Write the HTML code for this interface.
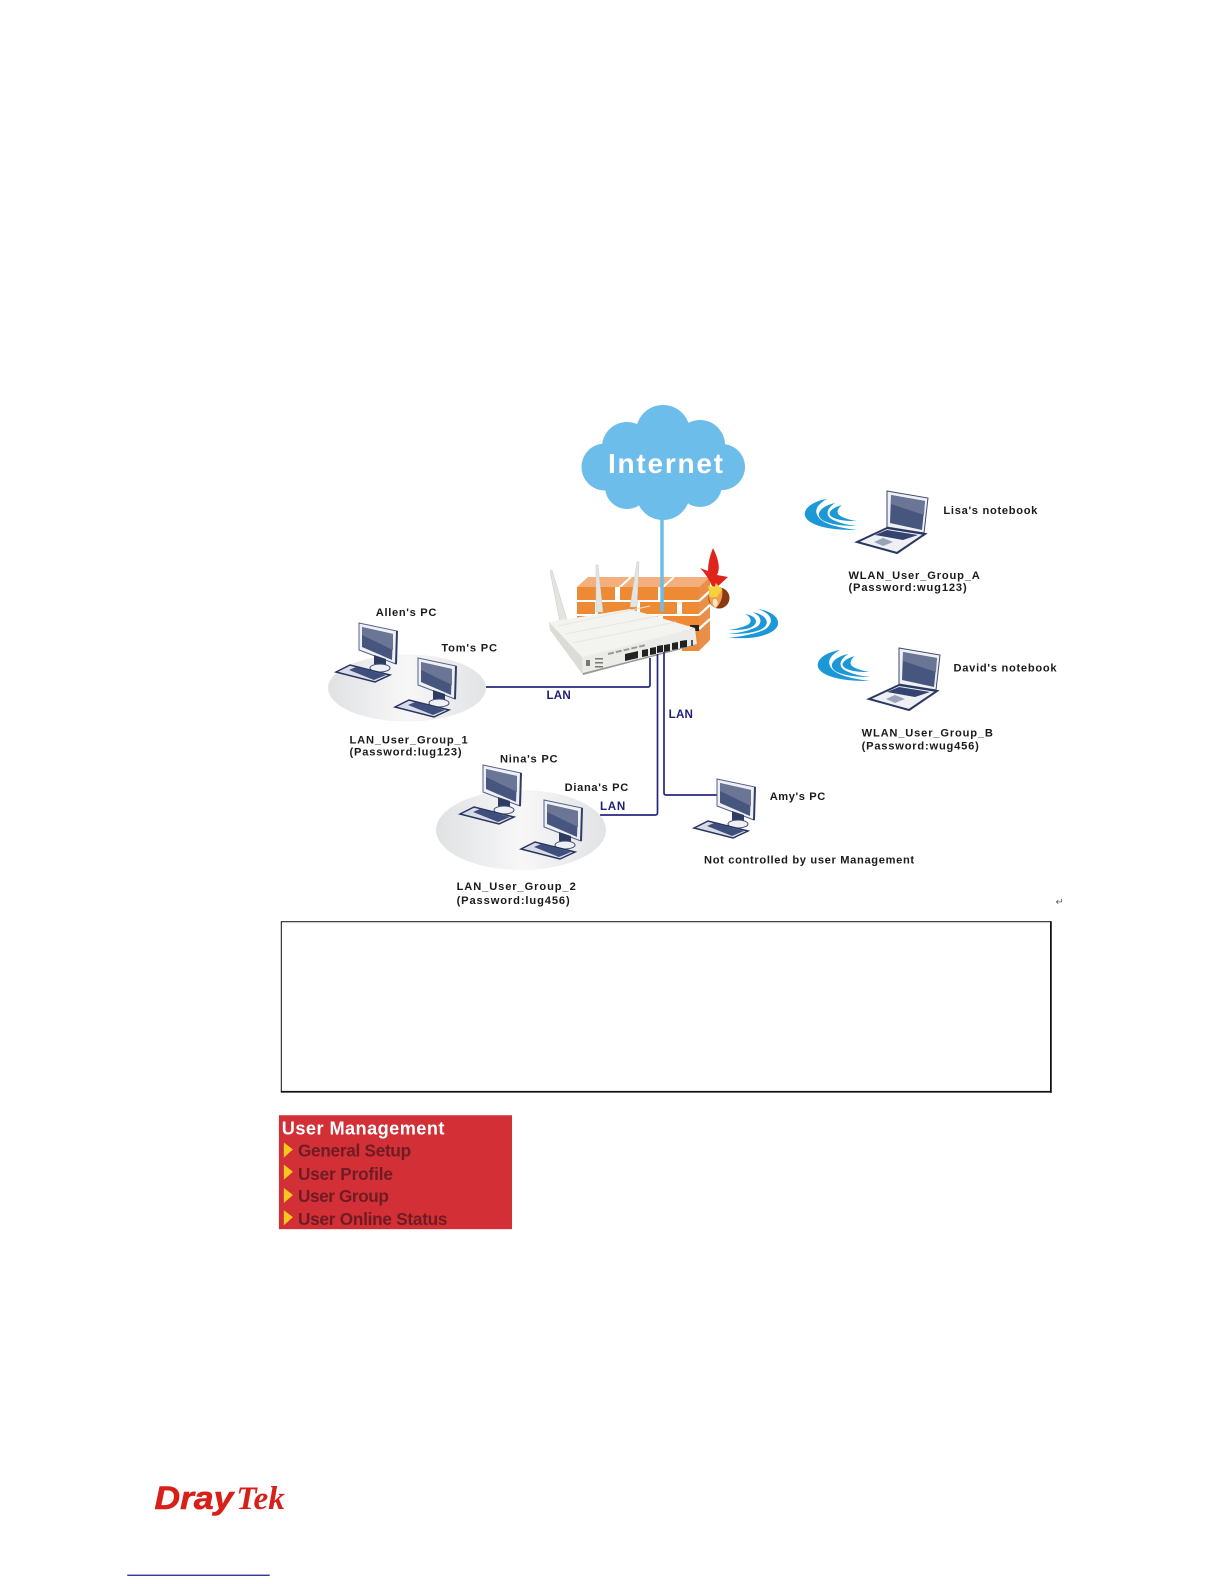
<!DOCTYPE html>
<html><head><meta charset="utf-8"><style>
html,body{margin:0;padding:0;background:#fff}
svg{display:block}
text{font-family:"Liberation Sans",sans-serif}
.l{font-size:11px;font-weight:bold;fill:#1a1a1a}
.n{font-size:11.5px;font-weight:bold;fill:#1f1f78}
.m{font-size:17px;font-weight:bold;fill:#6e1c24}
</style></head><body>
<svg width="1224" height="1584" viewBox="0 0 1224 1584" xmlns="http://www.w3.org/2000/svg">
<defs>
<linearGradient id="g" x1="0" x2="1" y1="0" y2="0"><stop offset="0" stop-color="#e0e1e3"/><stop offset=".5" stop-color="#f7f7f8"/><stop offset="1" stop-color="#e2e3e5"/></linearGradient>
<filter id="b" x="-5%" y="-5%" width="110%" height="110%"><feGaussianBlur stdDeviation="0.35"/></filter>
<g id="pc">
<polygon points="23,1 61,9 60,42 23,28" fill="#eef0f4" stroke="#55618a" stroke-width="1"/>
<line x1="61" y1="9" x2="60" y2="42" stroke="#2f3c66" stroke-width="2"/>
<polygon points="26,5 57,12 56,38 26,25" fill="#46567f"/>
<polygon points="26,5 57,12 57,28 26,13" fill="#6b7596"/>
<polygon points="38,33 50,37 50,45 38,42" fill="#2f3c62"/>
<ellipse cx="44" cy="46" rx="10" ry="4" fill="#eef0f4" stroke="#3c4a72"/>
<polygon points="0,50 14,43 54,53 39,60" fill="#d9dce6" stroke="#26345f" stroke-width="1.5"/>
<polygon points="13,48 20,45 50,53 38,58" fill="#3f4f7c"/>
</g>
<g id="lt">
<polygon points="30,0 71,7 67,42 30,36" fill="#eef0f4" stroke="#3c4a72"/>
<polygon points="34,4 68,10 65,39 33,32" fill="#46567f"/>
<polygon points="34,4 68,10 67,24 34,13" fill="#6b7596"/>
<polygon points="0,51 30,37 68,43 40,62" fill="#eef0f4" stroke="#2a3763" stroke-width="2"/>
<polygon points="18,44 30,39 61,44 46,49" fill="#33426e"/>
<polygon points="17,51 26,47 36,51 26,55" fill="#9aa2b8"/>
</g>
<g id="w" fill="#1c98d6">
<path d="M22,0 C2,3 -8,16 7,24 C18,30 36,31 52,31 C36,29 22,26 15,20 C8,13 11,6 22,0Z"/>
<path d="M30,4 C16,7 8,16 19,22 C28,26 40,27 52,27 C42,26 30,23 25,19 C20,14 23,9 30,4Z"/>
<path d="M37,6 C26,9 20,15 29,19 C36,22 44,22 52,22 C45,21 38,19 34,16 C31,13 33,9 37,6Z"/>
</g>
</defs>

<!-- cloud -->
<g fill="#6dbdea">
<circle cx="663" cy="432" r="27"/><circle cx="627" cy="447" r="25"/><circle cx="700" cy="445" r="25"/>
<circle cx="605" cy="467" r="23.5"/><circle cx="722" cy="467" r="23"/>
<circle cx="627" cy="487" r="22"/><circle cx="663" cy="493" r="27"/><circle cx="700" cy="485" r="22"/>
<ellipse cx="663" cy="465" rx="65" ry="40"/>
</g>
<text x="608" y="473" font-size="28" font-weight="bold" fill="#fff" textLength="115">Internet</text>

<!-- firewall -->
<polygon points="577,587 588,577 710,577 699,587" fill="#f4b07c"/>
<line x1="620" y1="587" x2="631" y2="577" stroke="#fff" stroke-width="2"/>
<line x1="663" y1="587" x2="674" y2="577" stroke="#fff" stroke-width="2"/>
<rect x="577" y="587" width="122" height="64" fill="#fff"/>
<g fill="#ee8a33">
<rect x="577" y="587" width="38" height="13"/><rect x="620" y="587" width="38" height="13"/><rect x="663" y="587" width="36" height="13"/>
<rect x="577" y="602" width="18" height="12"/><rect x="598" y="602" width="39" height="12"/><rect x="640" y="602" width="37" height="12"/><rect x="682" y="602" width="17" height="12"/>
<rect x="577" y="616" width="38" height="12"/><rect x="620" y="616" width="38" height="12"/><rect x="663" y="616" width="36" height="12"/>
<rect x="682" y="630" width="17" height="21"/>
</g>
<polygon points="699,587 710,577 710,640 699,651" fill="#e98f4a"/>
<g stroke="#fff" stroke-width="2.2">
<line x1="699" y1="601" x2="710" y2="591"/><line x1="699" y1="615" x2="710" y2="605"/><line x1="699" y1="629" x2="710" y2="619"/>
</g>
<rect x="690" y="625" width="9" height="6" fill="#222"/>

<!-- flame -->
<circle cx="719" cy="598" r="10.5" fill="#8a3a12"/>
<path d="M709,590 L722,588 Q724,600 716,608 Q708,606 709,590Z" fill="#f2a24a"/>
<path d="M713,604 Q712,598 716,599 Q720,604 715,608Z" fill="#fbe6cc"/>
<path d="M713,548 Q722,566 717,575 L728,577 L716,588 L712,586 Q707,575 700,568 L708,571 Q708,560 713,548Z" fill="#e0241c"/>
<path d="M708,585 L714,588 L716,583 L722,590 L717,597 L710,597Z" fill="#f7d23a"/>

<!-- internet line -->
<line x1="662" y1="518" x2="662" y2="612" stroke="#6dbdea" stroke-width="3.5"/>

<!-- antennas -->
<g fill="#e4e4e0" stroke="#c8c8c4" stroke-width=".5">
<polygon points="550,571 552,570 567,620 560,622"/>
<polygon points="596,565 598,565 603,612 596,612"/>
<polygon points="637,562 639,562 637,607 630,607"/>
</g>

<!-- router -->
<polygon points="549,622 630,609 695,628 582,657" fill="#f3f3f0"/>
<g stroke="#e6e6e2" stroke-width="1">
<line x1="558" y1="626" x2="650" y2="606"/><line x1="565" y1="634" x2="663" y2="615"/><line x1="572" y1="643" x2="676" y2="622"/>
</g>
<polygon points="582,657 695,628 697,645 583,675" fill="#ebebe7"/>
<polygon points="549,622 582,657 583,675 550,630" fill="#dcdcd7"/>
<polygon points="583,673 697,644 697,645 583,675" fill="#9a9a95"/>
<g fill="#222">
<polygon points="625,654 638,651 638,658 625,661"/>
<polygon points="642,650 648,649 648,656 642,657"/>
<polygon points="650,648 656,647 656,654 650,655"/>
<polygon points="657,646 663,645 663,652 657,653"/>
<polygon points="664,645 670,644 670,651 664,652"/>
<polygon points="672,643 678,642 678,649 672,650"/>
<polygon points="680,641 687,640 687,647 680,648"/>
</g>
<rect x="691" y="640" width="2" height="6" fill="#555"/>
<g fill="#777">
<rect x="595" y="658" width="8" height="1.5"/><rect x="595" y="662" width="8" height="1.5"/><rect x="595" y="666" width="8" height="1.5"/>
<rect x="586" y="660" width="4" height="6"/>
</g>
<line x1="608" y1="654" x2="646" y2="645" stroke="#999" stroke-width="2" stroke-dasharray="6 2"/>

<!-- cables -->
<g fill="none" stroke="#27277f" stroke-width="1.7">
<path d="M486,687 H648 Q650,687 650,685 V658"/>
<path d="M600,815 H655 Q657.5,815 657.5,813 V654"/>
<path d="M717,795 H666 Q664,795 664,793 V652"/>
</g>

<!-- wifi -->
<path d="M758,609 C780,612 788,629 761,636 C750,639 738,638 728,638 C745,636 760,633 767,628 C775,620 770,613 758,609Z" fill="#1c98d6"/>
<path d="M752,612 C770,615 773,628 753,632 C745,634 736,634 728,634 C740,633 752,630 758,626 C763,621 760,615 752,612Z" fill="#1c98d6"/>
<path d="M745,614 C759,616 760,626 746,629 C740,630 734,630 728,630 C736,629 744,627 749,624 C752,621 751,617 745,614Z" fill="#1c98d6"/>
<use href="#w" x="805" y="499"/>
<use href="#w" x="818" y="650"/>

<!-- groups -->
<ellipse cx="407" cy="688" rx="79" ry="33.5" fill="url(#g)"/>
<ellipse cx="521" cy="830" rx="85" ry="40" fill="url(#g)"/>
<use href="#pc" x="336" y="622"/>
<use href="#pc" x="395" y="657"/>
<use href="#pc" x="460" y="764"/>
<use href="#pc" x="521" y="799"/>
<use href="#pc" x="694" y="778"/>
<use href="#lt" x="857" y="491"/>
<use href="#lt" x="869" y="648"/>

<g transform="scale(1.0101)">
<!-- labels -->
<text class="l" x="372" y="610" textLength="60">Allen's PC</text>
<text class="l" x="437" y="645" textLength="55">Tom's PC</text>
<text class="l" x="346" y="736" textLength="117">LAN_User_Group_1</text>
<text class="l" x="346" y="748" textLength="111">(Password:lug123)</text>
<text class="l" x="495" y="755" textLength="57">Nina's PC</text>
<text class="l" x="559" y="783" textLength="63">Diana's PC</text>
<text class="l" x="452" y="881" textLength="118">LAN_User_Group_2</text>
<text class="l" x="452" y="895" textLength="112">(Password:lug456)</text>
<text class="l" x="762" y="792" textLength="55">Amy's PC</text>
<text class="l" x="697" y="855" textLength="208">Not controlled by user Management</text>
<text class="l" x="934" y="509" textLength="93">Lisa's notebook</text>
<text class="l" x="840" y="573" textLength="130">WLAN_User_Group_A</text>
<text class="l" x="840" y="585" textLength="117">(Password:wug123)</text>
<text class="l" x="944" y="665" textLength="102">David's notebook</text>
<text class="l" x="853" y="729" textLength="130">WLAN_User_Group_B</text>
<text class="l" x="853" y="742" textLength="116">(Password:wug456)</text>
<text class="n" x="541" y="692" textLength="24">LAN</text>
<text class="n" x="594" y="802" textLength="25">LAN</text>
<text class="n" x="662" y="711" textLength="24">LAN</text>
<text x="1045" y="896" font-size="10" fill="#666">↵</text>

<!-- box -->
<rect x="278.5" y="912.5" width="761.5" height="168" fill="none" stroke="#111" stroke-width="1"/>
<line x1="1040.5" y1="912" x2="1040.5" y2="1082" stroke="#111" stroke-width="1.5"/>
<line x1="278" y1="1081" x2="1041" y2="1081" stroke="#111" stroke-width="1.5"/>

<!-- menu -->
<svg x="276" y="1104" width="231" height="113" viewBox="0 0 231 113">
<rect width="231" height="113" fill="#d22f37"/>
<text x="3" y="19" font-size="18" font-weight="bold" fill="#fff" textLength="161">User Management</text>
<g fill="#f5c81e">
<polygon points="5,27 14,34 5,42"/><polygon points="5,49 14,56 5,64"/><polygon points="5,72 14,79 5,87"/><polygon points="5,94 14,101 5,109"/>
</g>
<g filter="url(#b)">
<text class="m" x="19" y="41" textLength="112">General Setup</text>
<text class="m" x="19" y="64" textLength="94">User Profile</text>
<text class="m" x="19" y="86" textLength="90">User Group</text>
<text class="m" x="19" y="109" textLength="148">User Online Status</text>
</g>
</svg>

<!-- logo -->
<text x="153" y="1494" font-size="32" font-weight="bold" font-style="italic" fill="#d8201a" stroke="#d8201a" stroke-width=".6" textLength="78" lengthAdjust="spacingAndGlyphs">Dray</text>
<text x="234" y="1494" font-size="32" font-weight="bold" font-style="italic" fill="#d8201a" style="font-family:'Liberation Serif',serif" textLength="48" lengthAdjust="spacingAndGlyphs">Tek</text>

<line x1="126" y1="1559.5" x2="267" y2="1559.5" stroke="#1a1a90" stroke-width="1.2"/>
</g>
</svg>
</body></html>
